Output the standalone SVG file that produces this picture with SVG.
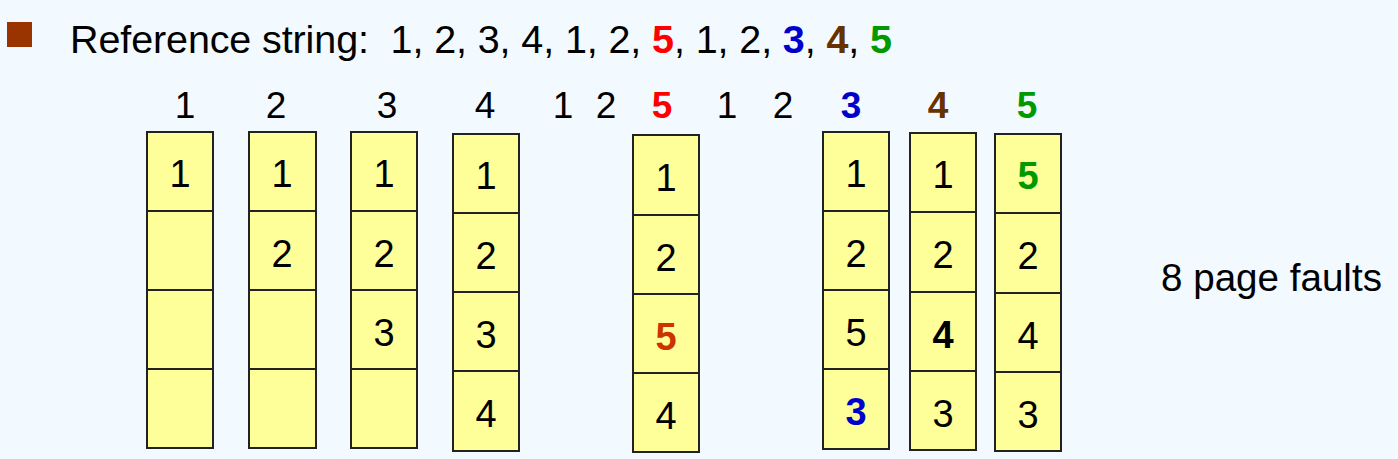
<svg xmlns="http://www.w3.org/2000/svg" width="1398" height="459" viewBox="0 0 1398 459">
<style>
text{font-family:"Liberation Sans",Arial,sans-serif;fill:#000}
.title{font-size:39.5px}
.hdr{font-size:37px;text-anchor:middle}
.cell{fill:#FFFF99;stroke:#222;stroke-width:2}
.v{font-size:38px;text-anchor:middle}
.b{font-weight:bold}
.red{fill:#FF0000}
.blue{fill:#0000CC}
.brown{fill:#663300}
.green{fill:#009900}
.orange{fill:#CC3300}
</style>
<rect width="1398" height="459" fill="#F2FAFF"/>
<g id="title">
<rect x="7" y="22" width="25" height="25" fill="#993300"/>
<text class="title" x="70" y="53" xml:space="preserve" textLength="822">Reference string:  1, 2, 3, 4, 1, 2, <tspan class="b red">5</tspan>, 1, 2, <tspan class="b blue">3</tspan>, <tspan class="b brown">4</tspan>, <tspan class="b green">5</tspan></text>
</g>
<g id="headers">
<text class="hdr" x="185" y="118">1</text>
<text class="hdr" x="276" y="118">2</text>
<text class="hdr" x="387" y="118">3</text>
<text class="hdr" x="485" y="118">4</text>
<text class="hdr" x="563" y="118">1</text>
<text class="hdr" x="606" y="118">2</text>
<text class="hdr b red" x="662" y="118">5</text>
<text class="hdr" x="727" y="118">1</text>
<text class="hdr" x="783" y="118">2</text>
<text class="hdr b blue" x="851" y="118">3</text>
<text class="hdr b brown" x="938" y="118">4</text>
<text class="hdr b green" x="1027" y="118">5</text>
</g>
<g id="col1">
<rect class="cell" x="147" y="132" width="66" height="79"/>
<rect class="cell" x="147" y="211" width="66" height="79"/>
<rect class="cell" x="147" y="290" width="66" height="79"/>
<rect class="cell" x="147" y="369" width="66" height="79"/>
<text class="v" x="180" y="187">1</text>
</g>
<g id="col2">
<rect class="cell" x="249" y="132" width="67" height="79"/>
<rect class="cell" x="249" y="211" width="67" height="79"/>
<rect class="cell" x="249" y="290" width="67" height="79"/>
<rect class="cell" x="249" y="369" width="67" height="79"/>
<text class="v" x="282" y="187">1</text>
<text class="v" x="282" y="267">2</text>
</g>
<g id="col3">
<rect class="cell" x="351" y="132" width="66" height="79"/>
<rect class="cell" x="351" y="211" width="66" height="79"/>
<rect class="cell" x="351" y="290" width="66" height="79"/>
<rect class="cell" x="351" y="369" width="66" height="79"/>
<text class="v" x="384" y="187">1</text>
<text class="v" x="384" y="267">2</text>
<text class="v" x="384" y="346">3</text>
</g>
<g id="col4">
<rect class="cell" x="453" y="134" width="66" height="79"/>
<rect class="cell" x="453" y="213" width="66" height="79"/>
<rect class="cell" x="453" y="292" width="66" height="79"/>
<rect class="cell" x="453" y="371" width="66" height="80"/>
<text class="v" x="486" y="189">1</text>
<text class="v" x="486" y="269">2</text>
<text class="v" x="486" y="348">3</text>
<text class="v" x="486" y="427">4</text>
</g>
<g id="col5">
<rect class="cell" x="633" y="135" width="66" height="80"/>
<rect class="cell" x="633" y="215" width="66" height="79"/>
<rect class="cell" x="633" y="294" width="66" height="79"/>
<rect class="cell" x="633" y="373" width="66" height="79"/>
<text class="v" x="666" y="191">1</text>
<text class="v" x="666" y="271">2</text>
<text class="v b orange" x="666" y="350">5</text>
<text class="v" x="666" y="429">4</text>
</g>
<g id="col6">
<rect class="cell" x="823" y="132" width="66" height="79"/>
<rect class="cell" x="823" y="211" width="66" height="79"/>
<rect class="cell" x="823" y="290" width="66" height="79"/>
<rect class="cell" x="823" y="369" width="66" height="80"/>
<text class="v" x="856" y="187">1</text>
<text class="v" x="856" y="267">2</text>
<text class="v" x="856" y="346">5</text>
<text class="v b blue" x="856" y="425">3</text>
</g>
<g id="col7">
<rect class="cell" x="910" y="133" width="66" height="79"/>
<rect class="cell" x="910" y="212" width="66" height="80"/>
<rect class="cell" x="910" y="292" width="66" height="79"/>
<rect class="cell" x="910" y="371" width="66" height="79"/>
<text class="v" x="943" y="188">1</text>
<text class="v" x="943" y="268">2</text>
<text class="v b" x="943" y="348">4</text>
<text class="v" x="943" y="427">3</text>
</g>
<g id="col8">
<rect class="cell" x="995" y="134" width="66" height="79"/>
<rect class="cell" x="995" y="213" width="66" height="80"/>
<rect class="cell" x="995" y="293" width="66" height="79"/>
<rect class="cell" x="995" y="372" width="66" height="79"/>
<text class="v b green" x="1028" y="189">5</text>
<text class="v" x="1028" y="269">2</text>
<text class="v" x="1028" y="349">4</text>
<text class="v" x="1028" y="428">3</text>
</g>
<g id="faults">
<text x="1161" y="291" style="font-size:38.6px">8 page faults</text>
</g>
</svg>
